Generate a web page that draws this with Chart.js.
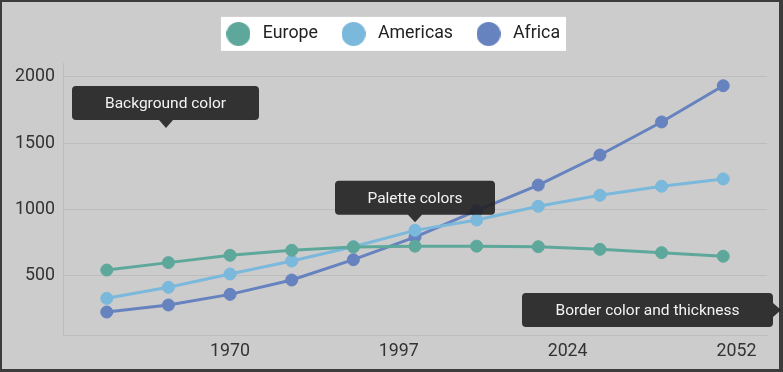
<!DOCTYPE html>
<html><head><meta charset="utf-8">
<script src="https://cdn.jsdelivr.net/npm/chart.js@4/dist/chart.umd.min.js"></script>
<style>html,body{margin:0;padding:0;background:#3c3c3c;overflow:hidden}canvas{display:block}</style>
</head><body>
<canvas id="c" width="783" height="372"></canvas>
<script>
// ---- data ----
const years = [1950, 1960, 1970, 1980, 1990, 2000, 2010, 2020, 2030, 2040, 2050];
const europe = [544, 600, 655, 693, 718, 724, 724, 720, 700, 675, 648];
const americas = [331, 414, 514, 612, 720, 843, 921, 1024, 1107, 1175, 1230];
const africa = [228, 281, 361, 469, 622, 792, 991, 1184, 1410, 1659, 1932];
const seriesNames = ['Europe', 'Americas', 'Africa'];
const yTicks = [500, 1000, 1500, 2000];
const xTickDays = [0, 10000, 20000, 30000];      // days since 1970-01-01
const xTickLabels = ['1970', '1997', '2024', '2052'];
const calloutTexts = ['Background color', 'Palette colors', 'Border color and thickness'];

// ---- styles ----
const colors = ['#5ea89b', '#7ab8dc', '#6682bf'];
const FONT = 'Roboto';
const FSIZE = 17.8;

function markerImage(color) {
  const c = document.createElement('canvas');
  c.width = 24; c.height = 24;
  const g = c.getContext('2d');
  g.fillStyle = color;
  g.beginPath(); g.arc(12, 12, 12, 0, Math.PI * 2); g.fill();
  return c;
}
const markers = colors.map(markerImage);

const series = [europe, americas, africa];
const datasets = series.map((vals, i) => ({
  label: seriesNames[i],
  data: years.map((yr, k) => ({ x: yr, y: vals[k] })),
  borderColor: colors[i],
  backgroundColor: colors[i],
  pointBackgroundColor: colors[i],
  pointBorderColor: colors[i],
  borderWidth: 3,
  pointRadius: 6,
  pointBorderWidth: 1,
  tension: 0,
  fill: false
}));

function roundRect(ctx, x, y, w, h, r) {
  ctx.moveTo(x + r, y);
  ctx.lineTo(x + w - r, y); ctx.arcTo(x + w, y, x + w, y + r, r);
  ctx.lineTo(x + w, y + h - r); ctx.arcTo(x + w, y + h, x + w - r, y + h, r);
  ctx.lineTo(x + r, y + h); ctx.arcTo(x, y + h, x, y + h - r, r);
  ctx.lineTo(x, y + r); ctx.arcTo(x, y, x + r, y, r);
  ctx.closePath();
}

function callout(ctx, text, bx, by, bw, bh, arrow) {
  ctx.save();
  ctx.fillStyle = 'rgba(33,33,33,0.9)';
  ctx.beginPath();
  roundRect(ctx, bx, by, bw, bh, 4);
  if (arrow.dir === 'down') {
    ctx.moveTo(arrow.x - 7, by + bh);
    ctx.lineTo(arrow.x, arrow.y);
    ctx.lineTo(arrow.x + 7, by + bh);
    ctx.closePath();
  } else if (arrow.dir === 'right') {
    ctx.moveTo(bx + bw, arrow.y - 7);
    ctx.lineTo(arrow.x, arrow.y);
    ctx.lineTo(bx + bw, arrow.y + 7);
    ctx.closePath();
  }
  ctx.fill();
  ctx.fillStyle = '#f4f4f4';
  ctx.font = '15.5px ' + FONT;
  ctx.textAlign = 'center';
  ctx.textBaseline = 'middle';
  ctx.fillText(text, bx + bw / 2, by + bh / 2 + 1);
  ctx.restore();
}

const framePlugin = {
  id: 'frame',
  beforeInit(chart) {
    const fit = chart.legend.fit;
    chart.legend.fit = function () { fit.call(this); this.height = 58; };
  },
  beforeDraw(chart) {
    const ctx = chart.ctx;
    ctx.save();
    ctx.fillStyle = '#3c3c3c';
    ctx.fillRect(0, 0, chart.width, chart.height);
    ctx.fillStyle = '#cccccc';
    ctx.fillRect(2, 2, 777, 367);
    const hb = chart.legend.legendHitBoxes;
    if (hb && hb.length) {
      const first = hb[0], last = hb[hb.length - 1];
      const cy = first.top + first.height / 2;
      const left = first.left - 2;
      const right = last.left + last.width + 6;
      ctx.fillStyle = '#ffffff';
      ctx.fillRect(left, cy - 17, right - left, 34);
    }
    ctx.restore();
  },
  afterDraw(chart) {
    const ctx = chart.ctx;
    const xs = chart.scales.x, ys = chart.scales.y;
    // Background color callout
    callout(ctx, calloutTexts[0], 72, 86, 187, 34, { dir: 'down', x: 166, y: 128 });
    // Palette colors callout, pointing at the Americas 2000 point
    const px = xs.getPixelForValue(years[5]);
    const py = ys.getPixelForValue(americas[5]) - 8;
    callout(ctx, calloutTexts[1], px - 80, py - 7.5 - 34, 160, 34, { dir: 'down', x: px, y: py });
    // Border callout
    callout(ctx, calloutTexts[2], 522, 293, 251, 34, { dir: 'right', x: 781, y: 310 });
  }
};

new Chart(document.getElementById('c'), {
  type: 'line',
  data: { datasets },
  plugins: [framePlugin],
  options: {
    responsive: false,
    animation: false,
    devicePixelRatio: 1,
    events: [],
    layout: { padding: { left: 2, right: 2, top: 5, bottom: 3 } },
    plugins: {
      tooltip: { enabled: false },
      legend: {
        position: 'top',
        labels: {
          usePointStyle: true,
          pointStyleWidth: 31,
          padding: 20,
          color: '#222',
          font: { family: FONT, size: FSIZE },
          generateLabels(chart) {
            const items = Chart.defaults.plugins.legend.labels.generateLabels(chart);
            items.forEach((it, i) => { it.pointStyle = markers[i]; });
            return items;
          }
        }
      }
    },
    scales: {
      x: {
        type: 'linear',
        min: 1942.9,
        max: 2057.1,
        grid: { display: false, drawTicks: false },
        border: { display: true, color: '#bdbdbd', width: 1 },
        afterBuildTicks(scale) {
          scale.ticks = xTickDays.map(d => ({ value: 1970 + d / 365.2425 }));
        },
        afterFit(scale) { scale.height = 34; },
        ticks: {
          padding: 6,
          color: '#333',
          font: { family: FONT, size: FSIZE },
          maxRotation: 0,
          autoSkip: false,
          callback: (v, i) => xTickLabels[i]
        }
      },
      y: {
        type: 'linear',
        min: 55,
        max: 2103,
        grid: { color: '#bdbdbd', lineWidth: 1, drawTicks: false },
        border: { display: true, color: '#bdbdbd', width: 1 },
        afterBuildTicks(scale) {
          scale.ticks = yTicks.map(v => ({ value: v }));
        },
        afterFit(scale) { scale.width = 61; },
        ticks: {
          padding: 8,
          color: '#333',
          font: { family: FONT, size: FSIZE },
          callback: v => String(v)
        }
      },
      yR: {
        type: 'linear',
        position: 'right',
        display: true,
        grid: { display: false, drawTicks: false },
        border: { display: false },
        ticks: { display: false },
        afterFit(scale) { scale.width = 14; }
      }
    }
  }
});
</script>
</body></html>
